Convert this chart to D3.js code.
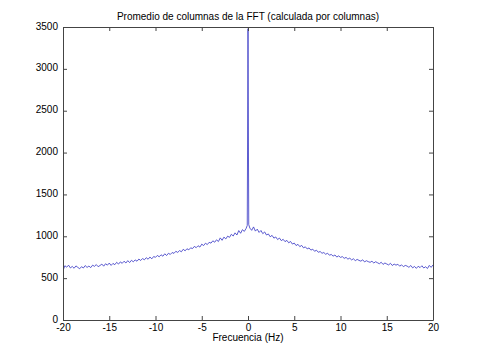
<!DOCTYPE html>
<html><head><meta charset="utf-8">
<script src="https://cdn.jsdelivr.net/npm/d3@7"></script>
<style>body{margin:0;background:#fff}svg{display:block}</style>
</head><body>
<svg id="c" width="480" height="360"></svg>
<script>
const titleText = "Promedio de columnas de la FFT (calculada por columnas)";
const xLabelText = "Frecuencia (Hz)";
const xTicks = [-20, -15, -10, -5, 0, 5, 10, 15, 20];
const yTicks = [0, 500, 1000, 1500, 2000, 2500, 3000, 3500];
const freqStart = -20, freqStep = 0.2;
// magnitude, f = -20 ... 20 step 0.2
const leftVals = [
 592,648,631,655,622, 640,618,646,629,612, 637,621,650,628,644, 626,655,641,662,637,
 651,668,643,672,655, 680,652,676,661,689, 668,694,677,702,681, 709,686,713,695,718,
 702,728,711,734,719, 744,726,752,731,758, 749,771,755,779,762, 791,770,797,783,806,
 796,821,807,829,815, 845,826,851,838,862, 853,879,864,887,871, 906,889,917,901,928,
 918,946,929,958,937, 981,952,990,968,1002, 987,1024,1003,1041,1015, 1068,1036,1079,1058,1095
];
const centerVal = [1120];
const rightVals = [
 1098,1071,1112,1062,1085, 1046,1069,1031,1052,1015, 1028,994,1011,978,992, 961,979,948,964,936,
 951,922,938,907,919, 889,904,876,891,862, 874,849,861,835,846, 821,834,809,818,797,
 806,785,798,774,783, 763,777,752,766,748, 757,736,748,727,739, 718,731,709,724,712,
 703,719,694,708,697, 689,702,681,696,684, 672,690,664,681,669, 658,677,651,668,655,
 666,643,659,637,652, 644,629,651,623,640, 617,642,626,648,621, 636,615,652,629,658
];
const spikeFreq = [-0.08, 0, 0.08];
const spikeVals = [1130, 3480, 1140];

const m = {l: 63, r: 433, t: 27, b: 320};
const svg = d3.select("#c");
const x = d3.scaleLinear().domain([-20, 20]).range([m.l, m.r]);
const y = d3.scaleLinear().domain([0, 3500]).range([m.b, m.t]);

const mainVals = leftVals.concat(centerVal, rightVals);
let pts = mainVals.map((v, i) => ({f: freqStart + i * freqStep, v}))
  .filter(d => Math.abs(d.f) > 0.01);
spikeFreq.forEach((f, i) => pts.push({f, v: spikeVals[i]}));
pts.sort((a, b) => a.f - b.f);

svg.append("clipPath").attr("id", "clip").append("rect")
  .attr("x", m.l).attr("y", m.t).attr("width", m.r - m.l).attr("height", m.b - m.t);

svg.append("path").datum(pts)
  .attr("clip-path", "url(#clip)")
  .attr("fill", "none").attr("stroke", "#3434c4").attr("stroke-width", 0.8)
  .attr("d", d3.line().x(d => x(d.f)).y(d => y(d.v)));

const font = "'Liberation Sans', Arial, sans-serif";
const axCol = "#444";
const fmt = d => String(d);
const gB = svg.append("g").attr("transform", `translate(0,${m.b})`)
  .call(d3.axisBottom(x).tickValues(xTicks).tickSizeInner(-4).tickSizeOuter(0).tickPadding(5).tickFormat(fmt));
const gT = svg.append("g").attr("transform", `translate(0,${m.t})`)
  .call(d3.axisTop(x).tickValues(xTicks).tickSizeInner(-4).tickSizeOuter(0).tickFormat(""));
const gL = svg.append("g").attr("transform", `translate(${m.l},0)`)
  .call(d3.axisLeft(y).tickValues(yTicks).tickSizeInner(-4).tickSizeOuter(0).tickPadding(5).tickFormat(fmt));
const gR = svg.append("g").attr("transform", `translate(${m.r},0)`)
  .call(d3.axisRight(y).tickValues(yTicks).tickSizeInner(-4).tickSizeOuter(0).tickFormat(""));
[gB, gT, gL, gR].forEach(g => {
  g.selectAll("path,line").attr("stroke", axCol).attr("stroke-width", 1);
  g.selectAll("text").attr("fill", "#000").style("font-family", font).style("font-size", "10px");
});
gB.selectAll("text").attr("dy", "0.6em");
gL.selectAll("text").attr("dy", "0.2em");

svg.append("text").attr("x", (m.l + m.r) / 2).attr("y", 20).attr("text-anchor", "middle")
  .style("font-family", font).style("font-size", "10px").text(titleText);
svg.append("text").attr("x", (m.l + m.r) / 2).attr("y", 341).attr("text-anchor", "middle")
  .style("font-family", font).style("font-size", "10px").text(xLabelText);
</script>
</body></html>
